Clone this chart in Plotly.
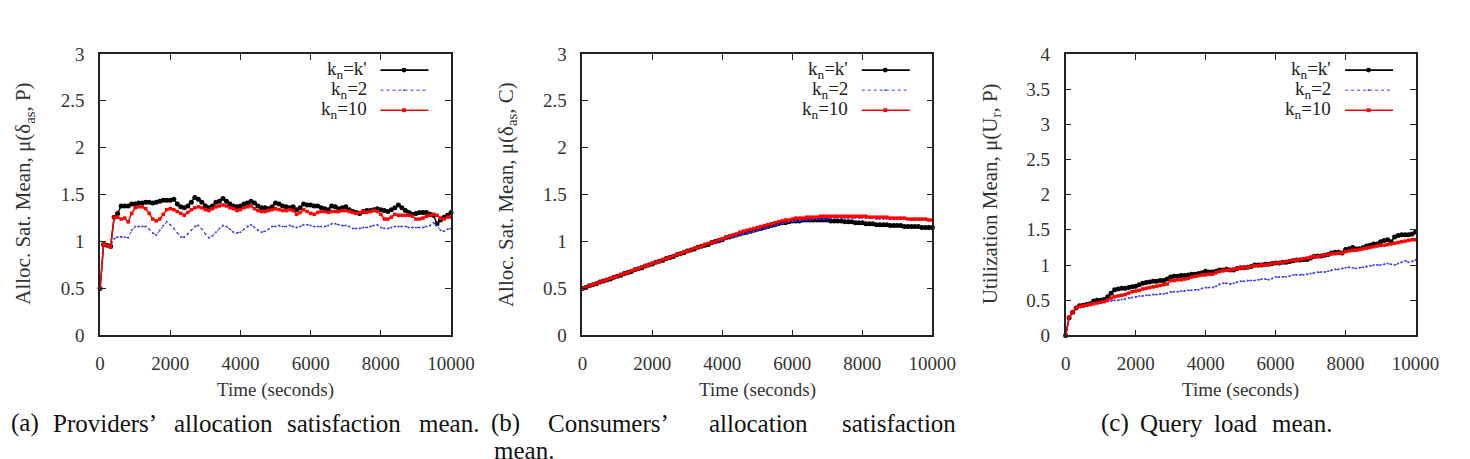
import plotly.graph_objects as go

# ---------------- data ----------------
time_s = list(range(0, 10001, 100))

# (a) Providers' allocation satisfaction mean
a_kprime = [0.50, 0.97, 0.96, 0.95, 1.26, 1.30, 1.38, 1.38, 1.38, 1.40, 1.40, 1.41, 1.41, 1.42, 1.42, 1.41, 1.42, 1.43, 1.44, 1.44,
            1.44, 1.45, 1.40, 1.37, 1.36, 1.38, 1.42, 1.47, 1.45, 1.42, 1.38, 1.36, 1.38, 1.42, 1.43, 1.46, 1.43, 1.40, 1.38, 1.37,
            1.38, 1.40, 1.41, 1.43, 1.41, 1.38, 1.36, 1.36, 1.35, 1.37, 1.41, 1.40, 1.38, 1.37, 1.36, 1.37, 1.34, 1.36, 1.40, 1.39,
            1.39, 1.38, 1.38, 1.36, 1.35, 1.34, 1.38, 1.37, 1.35, 1.36, 1.37, 1.34, 1.32, 1.31, 1.30, 1.32, 1.33, 1.33, 1.34, 1.35,
            1.34, 1.33, 1.32, 1.34, 1.36, 1.39, 1.36, 1.33, 1.31, 1.29, 1.30, 1.31, 1.31, 1.31, 1.29, 1.28, 1.19, 1.23, 1.26, 1.28,
            1.31]
a_k2 = [0.50, 0.97, 0.96, 0.95, 1.03, 1.05, 1.05, 1.05, 1.04, 1.12, 1.16, 1.16, 1.16, 1.16, 1.13, 1.09, 1.07, 1.12, 1.17, 1.21,
        1.18, 1.14, 1.09, 1.05, 1.05, 1.08, 1.12, 1.16, 1.17, 1.13, 1.08, 1.04, 1.06, 1.10, 1.14, 1.17, 1.16, 1.13, 1.10, 1.09,
        1.10, 1.13, 1.16, 1.18, 1.15, 1.12, 1.10, 1.11, 1.13, 1.16, 1.16, 1.17, 1.16, 1.16, 1.17, 1.16, 1.15, 1.16, 1.18, 1.18,
        1.17, 1.16, 1.16, 1.16, 1.16, 1.17, 1.19, 1.19, 1.18, 1.17, 1.17, 1.16, 1.14, 1.14, 1.14, 1.15, 1.15, 1.16, 1.17, 1.18,
        1.15, 1.14, 1.14, 1.15, 1.16, 1.16, 1.16, 1.16, 1.15, 1.15, 1.15, 1.15, 1.15, 1.16, 1.17, 1.20, 1.17, 1.12, 1.11, 1.13,
        1.14]
a_k10 = [0.50, 0.97, 0.96, 0.94, 1.26, 1.26, 1.24, 1.25, 1.21, 1.30, 1.36, 1.37, 1.37, 1.35, 1.30, 1.24, 1.22, 1.24, 1.29, 1.34,
         1.35, 1.34, 1.32, 1.30, 1.28, 1.31, 1.34, 1.36, 1.37, 1.36, 1.34, 1.33, 1.35, 1.37, 1.38, 1.39, 1.38, 1.36, 1.35, 1.33,
         1.34, 1.36, 1.37, 1.38, 1.35, 1.33, 1.32, 1.32, 1.33, 1.34, 1.35, 1.34, 1.33, 1.33, 1.34, 1.33, 1.29, 1.31, 1.34, 1.32,
         1.30, 1.29, 1.31, 1.32, 1.32, 1.31, 1.32, 1.32, 1.32, 1.33, 1.33, 1.32, 1.31, 1.30, 1.31, 1.32, 1.31, 1.32, 1.33, 1.32,
         1.29, 1.24, 1.24, 1.26, 1.29, 1.28, 1.28, 1.28, 1.28, 1.27, 1.24, 1.24, 1.25, 1.27, 1.28, 1.29, 1.28, 1.25, 1.24, 1.26,
         1.26]

# (b) Consumers' allocation satisfaction mean
b_kprime = [0.50, 0.51, 0.53, 0.54, 0.55, 0.57, 0.58, 0.59, 0.60, 0.62, 0.63, 0.64, 0.66, 0.67, 0.68, 0.70, 0.71, 0.72, 0.74, 0.75,
            0.76, 0.78, 0.79, 0.80, 0.82, 0.83, 0.84, 0.86, 0.87, 0.88, 0.90, 0.91, 0.92, 0.94, 0.95, 0.96, 0.97, 0.99, 1.00, 1.01,
            1.02, 1.04, 1.05, 1.06, 1.07, 1.08, 1.09, 1.10, 1.11, 1.12, 1.13, 1.14, 1.15, 1.16, 1.17, 1.18, 1.19, 1.20, 1.20, 1.21,
            1.22, 1.22, 1.22, 1.23, 1.23, 1.23, 1.23, 1.23, 1.23, 1.23, 1.23, 1.22, 1.22, 1.22, 1.22, 1.21, 1.21, 1.21, 1.20, 1.20,
            1.20, 1.19, 1.19, 1.19, 1.18, 1.18, 1.18, 1.18, 1.17, 1.17, 1.17, 1.17, 1.16, 1.16, 1.16, 1.16, 1.16, 1.15, 1.15, 1.15,
            1.15]
b_k2 = [0.50, 0.51, 0.53, 0.54, 0.55, 0.57, 0.58, 0.59, 0.60, 0.62, 0.63, 0.64, 0.66, 0.67, 0.68, 0.70, 0.71, 0.72, 0.74, 0.75,
        0.76, 0.78, 0.79, 0.80, 0.82, 0.83, 0.84, 0.86, 0.87, 0.88, 0.89, 0.91, 0.92, 0.93, 0.94, 0.96, 0.97, 0.98, 0.99, 1.00,
        1.01, 1.03, 1.04, 1.05, 1.06, 1.07, 1.08, 1.09, 1.10, 1.11, 1.12, 1.13, 1.14, 1.15, 1.16, 1.17, 1.18, 1.19, 1.20, 1.21,
        1.21, 1.22, 1.22, 1.23, 1.23, 1.23, 1.24, 1.24, 1.24, 1.24, 1.24, 1.25, 1.25, 1.25, 1.25, 1.25, 1.25, 1.25, 1.25, 1.25,
        1.25, 1.25, 1.25, 1.25, 1.24, 1.24, 1.24, 1.24, 1.24, 1.24, 1.24, 1.24, 1.24, 1.24, 1.23, 1.23, 1.23, 1.23, 1.23, 1.23,
        1.23]
b_k10 = [0.50, 0.51, 0.53, 0.54, 0.55, 0.57, 0.58, 0.59, 0.61, 0.62, 0.63, 0.65, 0.66, 0.67, 0.69, 0.70, 0.71, 0.73, 0.74, 0.75,
         0.77, 0.78, 0.79, 0.81, 0.82, 0.83, 0.85, 0.86, 0.87, 0.89, 0.90, 0.91, 0.93, 0.94, 0.95, 0.97, 0.98, 0.99, 1.00, 1.02,
         1.03, 1.04, 1.06, 1.07, 1.08, 1.10, 1.11, 1.12, 1.13, 1.14, 1.15, 1.16, 1.17, 1.18, 1.19, 1.20, 1.21, 1.22, 1.23, 1.23,
         1.24, 1.25, 1.25, 1.25, 1.26, 1.26, 1.26, 1.26, 1.27, 1.27, 1.27, 1.27, 1.27, 1.27, 1.27, 1.27, 1.27, 1.27, 1.27, 1.27,
         1.27, 1.27, 1.26, 1.26, 1.26, 1.26, 1.26, 1.26, 1.25, 1.25, 1.25, 1.25, 1.25, 1.24, 1.24, 1.24, 1.24, 1.24, 1.24, 1.23,
         1.23]

# (c) Query load mean
c_kprime = [0.00, 0.25, 0.33, 0.39, 0.42, 0.43, 0.44, 0.45, 0.49, 0.50, 0.50, 0.51, 0.55, 0.60, 0.65, 0.66, 0.67, 0.67, 0.68, 0.69,
            0.70, 0.72, 0.74, 0.75, 0.76, 0.77, 0.77, 0.78, 0.78, 0.80, 0.83, 0.84, 0.84, 0.85, 0.85, 0.86, 0.87, 0.87, 0.88, 0.89,
            0.91, 0.90, 0.90, 0.91, 0.93, 0.93, 0.94, 0.93, 0.93, 0.95, 0.96, 0.96, 0.97, 0.98, 1.00, 1.00, 1.00, 1.01, 1.01, 1.02,
            1.03, 1.03, 1.04, 1.04, 1.05, 1.06, 1.07, 1.07, 1.08, 1.08, 1.10, 1.12, 1.13, 1.13, 1.14, 1.15, 1.17, 1.18, 1.18, 1.17,
            1.22, 1.23, 1.25, 1.23, 1.23, 1.25, 1.27, 1.28, 1.30, 1.30, 1.33, 1.35, 1.36, 1.33, 1.40, 1.42, 1.43, 1.43, 1.43, 1.44,
            1.47]
c_k2 = [0.00, 0.25, 0.33, 0.39, 0.41, 0.42, 0.43, 0.44, 0.45, 0.46, 0.46, 0.47, 0.48, 0.49, 0.50, 0.50, 0.51, 0.52, 0.53, 0.54,
        0.55, 0.56, 0.56, 0.57, 0.57, 0.58, 0.58, 0.59, 0.59, 0.60, 0.62, 0.62, 0.62, 0.63, 0.63, 0.64, 0.64, 0.65, 0.65, 0.67,
        0.68, 0.68, 0.68, 0.70, 0.73, 0.74, 0.74, 0.73, 0.74, 0.76, 0.77, 0.77, 0.78, 0.78, 0.78, 0.79, 0.80, 0.80, 0.79, 0.81,
        0.83, 0.83, 0.83, 0.83, 0.84, 0.86, 0.86, 0.86, 0.86, 0.87, 0.88, 0.89, 0.90, 0.90, 0.90, 0.91, 0.93, 0.94, 0.94, 0.95,
        0.96, 0.97, 0.96, 0.95, 0.96, 0.97, 0.98, 0.99, 1.00, 1.00, 1.00, 1.01, 1.02, 1.01, 1.00, 1.02, 1.04, 1.06, 1.04, 1.05,
        1.07]
c_k10 = [0.00, 0.26, 0.33, 0.39, 0.41, 0.42, 0.43, 0.44, 0.45, 0.46, 0.47, 0.48, 0.50, 0.53, 0.55, 0.56, 0.57, 0.58, 0.60, 0.62,
         0.63, 0.64, 0.66, 0.67, 0.68, 0.69, 0.70, 0.71, 0.72, 0.73, 0.78, 0.78, 0.79, 0.79, 0.80, 0.81, 0.83, 0.84, 0.85, 0.86,
         0.86, 0.87, 0.87, 0.89, 0.91, 0.92, 0.93, 0.93, 0.94, 0.95, 0.96, 0.96, 0.97, 0.98, 0.99, 0.99, 1.00, 1.00, 1.01, 1.02,
         1.03, 1.03, 1.04, 1.05, 1.06, 1.07, 1.07, 1.08, 1.09, 1.10, 1.11, 1.12, 1.12, 1.13, 1.14, 1.15, 1.16, 1.16, 1.17, 1.17,
         1.19, 1.20, 1.21, 1.21, 1.22, 1.23, 1.24, 1.25, 1.26, 1.27, 1.28, 1.28, 1.29, 1.30, 1.31, 1.32, 1.33, 1.34, 1.35, 1.36,
         1.36]

series_labels = ["k<sub>n</sub>=k'", "k<sub>n</sub>=2", "k<sub>n</sub>=10"]
x_ticks = [0, 2000, 4000, 6000, 8000, 10000]
x_tick_text = ["0", "2000", "4000", "6000", "8000", "10000"]
y_titles = ["Alloc. Sat. Mean, \u03bc(\u03b4<sub>as</sub>, P)",
            "Alloc. Sat. Mean, \u03bc(\u03b4<sub>as</sub>, C)",
            "Utilization Mean, \u03bc(U<sub>r</sub>, P)"]
y_ranges = [[0, 3], [0, 3], [0, 4]]
x_title = "Time (seconds)"
caption_words = [["(a)", "Providers\u2019", "allocation", "satisfaction", "mean."],
                 ["(b)", "Consumers\u2019", "allocation", "satisfaction"],
                 ["(c)", "Query", "load", "mean."]]

# ---------------- styling ----------------
W, H = 1470, 459
SERIF = "Liberation Serif, Times New Roman, serif"
FS = 19
colors = ["#000000", "#3a3aff", "#ff0000"]
plot_px = [(97, 455), (589, 946), (1082, 1439)]
top_px, bot_px = 46, 341
ydom = [(H - bot_px) / H, (H - top_px) / H]

fig = go.Figure()

panels = [(a_kprime, a_k2, a_k10), (b_kprime, b_k2, b_k10), (c_kprime, c_k2, c_k10)]
for i, (s1, s2, s3) in enumerate(panels):
    xa = "x" if i == 0 else f"x{i+1}"
    ya = "y" if i == 0 else f"y{i+1}"
    fig.add_trace(go.Scatter(x=time_s, y=s1, mode="lines+markers", xaxis=xa, yaxis=ya,
                             line=dict(color=colors[0], width=1.5),
                             marker=dict(symbol="circle", size=5, color=colors[0]),
                             cliponaxis=False, showlegend=False))
    fig.add_trace(go.Scatter(x=time_s, y=s2, mode="lines+markers", xaxis=xa, yaxis=ya,
                             line=dict(color=colors[1], width=1, dash="dot"),
                             marker=dict(symbol="circle", size=2, color=colors[1]),
                             cliponaxis=False, showlegend=False))
    fig.add_trace(go.Scatter(x=time_s, y=s3, mode="lines+markers", xaxis=xa, yaxis=ya,
                             line=dict(color=colors[2], width=1.5),
                             marker=dict(symbol="square", size=3.5, color=colors[2]),
                             cliponaxis=False, showlegend=False))

layout = dict(width=W, height=H, margin=dict(l=0, r=0, t=0, b=0),
              paper_bgcolor="white", plot_bgcolor="white",
              font=dict(family=SERIF, size=FS, color="#222"))
axis_common = dict(showline=True, linecolor="#222", linewidth=1.6, mirror="allticks",
                   ticks="inside", ticklen=6, tickwidth=1.2, tickcolor="#222",
                   showgrid=False, zeroline=False,
                   tickfont=dict(family=SERIF, size=FS, color="#333"))
annotations = []
shapes = []
for i in range(3):
    x0, x1 = plot_px[i]
    xk = "xaxis" if i == 0 else f"xaxis{i+1}"
    yk = "yaxis" if i == 0 else f"yaxis{i+1}"
    xa = "x" if i == 0 else f"x{i+1}"
    ya = "y" if i == 0 else f"y{i+1}"
    layout[xk] = dict(domain=[x0 / W, x1 / W], anchor=ya, range=[0, 10000],
                      tickvals=x_ticks, ticktext=x_tick_text, ticklabelstandoff=10, **axis_common)
    layout[yk] = dict(domain=ydom, anchor=xa, range=y_ranges[i], dtick=0.5,
                      ticklabelstandoff=10, **axis_common)
    # axis titles
    annotations.append(dict(text=x_title, xref="paper", yref="paper",
                            x=(x0 + x1) / 2 / W, y=(H - 398) / H, showarrow=False,
                            xanchor="center", yanchor="middle",
                            font=dict(family=SERIF, size=FS, color="#333")))
    ytx = [20, 512, 1006][i]
    annotations.append(dict(text=y_titles[i], xref="paper", yref="paper",
                            x=ytx / W, y=(H - 193) / H, showarrow=False, textangle=-90,
                            xanchor="center", yanchor="middle",
                            font=dict(family=SERIF, size=21, color="#333")))
    # legend (gnuplot style: text, then sample)
    pw = x1 - x0
    ph = bot_px - top_px
    for j, lab in enumerate(series_labels):
        yrow = [63, 84, 105][j]
        yd = 1 - (yrow - top_px) / ph
        annotations.append(dict(text=lab, xref=f"{xa} domain", yref=f"{ya} domain",
                                x=1 - 84 / pw, y=yd, showarrow=False,
                                xanchor="right", yanchor="middle",
                                font=dict(family=SERIF, size=FS, color="#222")))
        dash = "dot" if j == 1 else "solid"
        wid = 1 if j == 1 else 1.6
        shapes.append(dict(type="line", xref=f"{xa} domain", yref=f"{ya} domain",
                           x0=1 - 72 / pw, x1=1 - 23 / pw, y0=yd, y1=yd,
                           line=dict(color=colors[j], width=wid, dash=dash)))
        mx = 1 - 48 / pw
        r = [2.5, 1.0, 2.0][j]
        shapes.append(dict(type="rect" if j == 2 else "circle",
                           xref=f"{xa} domain", yref=f"{ya} domain",
                           x0=mx - r / pw, x1=mx + r / pw, y0=yd - r / ph, y1=yd + r / ph,
                           fillcolor=colors[j], line=dict(width=0)))

# captions (justified words, as in the LaTeX subcaptions)
CAP = 25
cap_y = (H - 433) / H
cap_x = [[4, 47, 170, 286, 420], [494, 552, 716, 852], [1116, 1156, 1231, 1290]]
for words, xs in zip(caption_words, cap_x):
    for w, px in zip(words, xs):
        annotations.append(dict(text=w, xref="paper", yref="paper", x=px / W, y=cap_y,
                                showarrow=False, xanchor="left", yanchor="middle",
                                font=dict(family=SERIF, size=CAP, color="#111")))
annotations.append(dict(text="mean.", xref="paper", yref="paper", x=497 / W, y=(H - 462) / H,
                        showarrow=False, xanchor="left", yanchor="middle",
                        font=dict(family=SERIF, size=CAP, color="#111")))

layout["annotations"] = annotations
layout["shapes"] = shapes
fig.update_layout(**layout)
fig.write_html("out.html")
